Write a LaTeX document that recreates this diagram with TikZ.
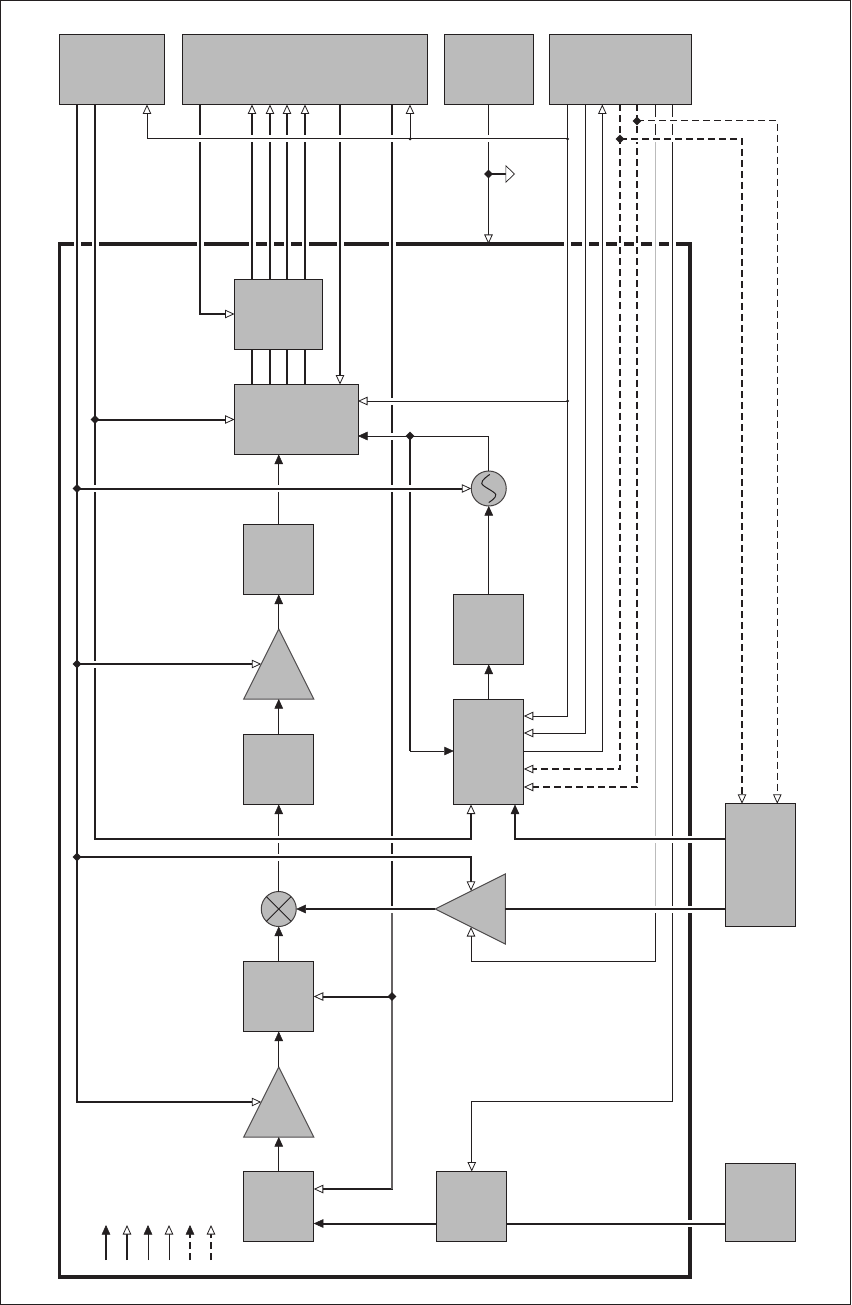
\documentclass[tikz,border=0pt]{standalone}
\usepackage{tikz}
\usepackage{xcolor}
\usetikzlibrary{arrows.meta,positioning,shapes.geometric}
\definecolor{ink}{HTML}{231F20}
\definecolor{blockgray}{HTML}{BBBBBB}

\begin{document}
\begin{tikzpicture}[
    x=1pt,y=1pt,
    block/.style={
        rectangle,
        draw=ink,
        fill=blockgray,
        line width=1pt,
        minimum width=70pt,
        minimum height=70pt,
        inner sep=0pt,
        outer sep=0pt
    },
    roundblock/.style={
        circle,
        draw=ink!85,
        fill=blockgray,
        line width=1pt,
        minimum size=35pt,
        inner sep=0pt,
        outer sep=0pt
    },
    triblock/.style={
        isosceles triangle,
        isosceles triangle stretches,
        draw=ink!80,
        fill=blockgray,
        line width=1pt,
        minimum width=70pt,
        minimum height=70pt,
        inner sep=0pt,
        outer sep=0pt
    },
    chipbox/.style={
        rectangle,
        draw=ink,
        line width=3.6pt,
        minimum width=630.5pt,
        minimum height=1033pt,
        inner sep=0pt,
        outer sep=0pt
    },
    junction/.style={diamond,fill=ink,minimum size=9pt,inner sep=0pt},
    smalljunction/.style={circle,fill=ink,minimum size=3pt,inner sep=0pt},
    thinline/.style={draw=ink,line width=1pt},
    thickline/.style={draw=ink,line width=2pt},
    thickdash/.style={draw=ink,line width=2pt,dash pattern=on 7pt off 4pt},
    thindash/.style={draw=ink,line width=1pt,dash pattern=on 7pt off 4pt},
    solidtip/.style={-{Triangle[width=8.5pt,length=9.5pt,line width=.5pt]}},
    hollowtip/.style={-{Triangle[width=8.5pt,length=9.5pt,line width=.8pt,fill=white]}},
    gapped/.style={preaction={draw=white,solid,line width=7pt,arrows=-,shorten <=3pt,shorten >=3pt}}
]
\useasboundingbox (0,0) rectangle (851,-1305);
\node (page) [draw=ink,line width=1.5pt,minimum width=850pt,minimum height=1304pt,inner sep=0pt] at (425.5,-652.5) {};
\node (chip) [chipbox] at (374.75,-760.5) {};

\node (topa) [block, minimum width=105pt] at (112,-69.5) {};
\node (topb) [block, minimum width=245pt, right=18pt of topa] {};
\node (topc) [block, minimum width=89pt, right=16.5pt of topb] {};
\node (topd) [block, minimum width=142.5pt, right=16pt of topc] {};

\node (regs) [block, minimum width=88pt, below right=35.5pt and 175pt of chip.north west] {};
\node (adc) [block, minimum width=123.5pt, below=35pt of regs.south west, anchor=north west] {};
\node (vga) [block, below=70pt of adc, xshift=-17.5pt] {};
\node (ampa) [triblock, shape border rotate=90, below=34.5pt of vga] {};
\node (lpfa) [block, below=35.5pt of ampa] {};
\node (mixer) [roundblock, below=87pt of lpfa] {};
\node (lpfb) [block, below=35pt of mixer] {};
\node (ampb) [triblock, shape border rotate=90, below=35.5pt of lpfb] {};
\node (drv) [block, below=34.5pt of ampb] {};
\node (ker) [block, right=123pt of drv] {};
\node (clk) [block, minimum height=78.5pt, right=219pt of ker, yshift=4pt] {};
\node (refs) [block, minimum height=122.5pt, above=237pt of clk] {};
\node (ctl) [block, minimum height=105pt, right=140pt of lpfa.south east, anchor=south west] {};
\node (lpfc) [block, above=35pt of ctl] {};
\node (osc) [roundblock, above=88.5pt of lpfc] {};
\node (gain) [triblock, shape border rotate=180, right=139pt of mixer] {};

\foreach \n/\x in {xa/77,xb/95,xc/200,xd/252,xe/270,xf/287,xg/305,xh/340,xi/392,xj/410,xk/147,
    xl/567.5,xm/585.3,xn/602.3,xo/620,xp/637,xq/655,xr/672.5,xs/742,xt/777.3,xu/471,xv/515}
    \coordinate (\n) at (\x,0);
\foreach \n/\y in {ydash/121,ybus/139,ytap/174,yserin/314,ybusb/401,yloop/436,yn1/716,yn2/733,yn3/751,
    yn4/769,yn5/787,yr1/839,yr2/857,ygaintop/890.9,ygainlow/927,yamp/961,yin/1223.5,ygainb/1101,ylna/1189}
    \coordinate (\n) at (0,-\y);

\draw [thickline,hollowtip,gapped] (topb.south -| xc) |- (regs.west |- yserin);
\foreach \r in {xd,xe,xf,xg} {
    \draw [thickline,hollowtip,gapped] (regs.north -| \r) -- (topb.south -| \r);
    \draw [thickline] (adc.north -| \r) -- (regs.south -| \r);
}
\draw [thickline,hollowtip,gapped] (topb.south -| xh) -- (adc.north -| xh);
\draw [thickline,hollowtip,gapped] (topb.south -| xi) -- (xi |- ylna) -- (drv.east |- ylna);
\draw [line width=2pt,ink!70] (xi |- gain) -- (xi |- ylna);
\draw [thickline,hollowtip] (lpfb.east -| xi) -- (lpfb.east);

\draw [thinline,solidtip] (drv.north) -- (ampb.south);
\draw [thinline,solidtip] (ampb.north) -- (lpfb.south);
\draw [thinline,solidtip] (lpfb.north) -- (mixer.south);
\draw [thinline,solidtip,gapped] (mixer.north) -- (lpfa.south);
\draw [thinline,solidtip] (lpfa.north) -- (ampa.south);
\draw [thinline,solidtip] (ampa.north) -- (vga.south);
\draw [thinline,solidtip,gapped] (vga.north) -- (adc.south -| vga.north);
\draw [thinline] (mixer.north west) -- (mixer.south east);
\draw [thinline] (mixer.north east) -- (mixer.south west);

\draw [thinline,hollowtip] (topc.south) -- (topc.south |- chip.north);
\draw [thinline,hollowtip,gapped] (topd.south -| xl) |- (ctl.east |- yn1);
\draw [thinline,hollowtip,gapped] (topd.south -| xm) |- (ctl.east |- yn2);
\draw [thinline,hollowtip,gapped] (ctl.east |- yn3) -| (topd.south -| xn);
\draw [thickdash,hollowtip,gapped] (topd.south -| xo) |- (ctl.east |- yn4);
\draw [thickdash,hollowtip,gapped] (topd.south -| xp) |- (ctl.east |- yn5);
\draw [thinline,gapped,hollowtip] (topd.south -| xq) -- (xq |- yamp) -| (xu |- ygainlow);
\draw [line width=1pt,blockgray] (xq |- ybus) -- (xq |- gain);
\draw [thinline,gapped,hollowtip] (topd.south -| xr) -- (xr |- ygainb) -| (ker.north);

\draw [thickline,hollowtip,gapped] (topa.south -| xb) -- (xb |- yr1) -| (ctl.south -| xu);
\draw [thickline,hollowtip] (adc.west -| xb) -- (adc.west);
\draw [thickline,hollowtip,gapped] (topa.south -| xa) |- (ampb.left side);

\draw [thinline,solidtip,gapped] (osc.north) |- (adc.east |- yloop);
\draw [thickline] (xj |- yloop) -- (xj |- yn3);
\draw [thinline,solidtip] (xj |- yn3) -- (ctl.west |- yn3);
\draw [thickline,hollowtip,gapped] (osc.west -| xa) -- (osc.west);
\draw [thickline,hollowtip,gapped] (ampa.left side -| xa) -- (ampa.left side);
\draw [thickline,hollowtip,gapped] (xa |- yr2) -| (xu |- ygaintop);
\draw [thinline,solidtip] (ctl.north) -- (lpfc.south);
\draw [thinline,solidtip] (lpfc.north) -- (osc.south);
\draw [thinline,shift={(osc.center)}] plot [smooth,tension=.6] coordinates {(1,14) (-7,5) (7,-6) (0,-14)};

\draw [thickline,solidtip,gapped] (refs.west |- yr1) -| (ctl.south -| xv);
\draw [thickline,gapped] (refs.west |- gain) -- (gain.lower side);
\draw [thickline,solidtip,gapped] (gain.apex) -- (mixer.east);
\draw [thickline,gapped] (clk.west |- yin) -- (ker.east |- yin);
\draw [thickline,solidtip] (ker.west |- yin) -- (drv.east |- yin);

\draw [thinline,hollowtip,gapped] (xl |- ybus) -| (topa.south -| xk);
\draw [thinline,hollowtip] (xj |- ybus) -- (topb.south -| xj);
\draw [thinline,hollowtip,gapped] (xl |- ybusb) -- (adc.east |- ybusb);
\draw [thickdash,hollowtip,gapped] (xo |- ybus) -| (refs.north -| xs);
\draw [thindash,hollowtip,gapped] (xp |- ydash) -| (refs.north -| xt);
\coordinate (tapend) at (515,-174);
\draw [thickline,-{Triangle[width=18pt,length=9.5pt,line width=.7pt,fill=white]}] (topc.south |- ytap) -- (tapend);

\foreach \n/\x in {lega/106,legb/127,legc/148,legd/169,lege/190,legf/211} {
    \coordinate (\n) at (\x,-1260);
    \coordinate (\n-top) at (\x,-1225);
}
\draw [thickline,solidtip] (lega) -- (lega-top);
\draw [thickline,hollowtip] (legb) -- (legb-top);
\draw [thinline,solidtip] (legc) -- (legc-top);
\draw [thinline,hollowtip] (legd) -- (legd-top);
\draw [thickdash,solidtip] (lege) -- (lege-top);
\draw [thickdash,hollowtip] (legf) -- (legf-top);

\node (dota) [junction] at (adc.west -| xb) {};
\node (dotb) [junction] at (osc.west -| xa) {};
\node (dotc) [junction] at (ampa.left side -| xa) {};
\node (dotd) [junction] at (xa |- yr2) {};
\node (dote) [junction] at (lpfb.east -| xi) {};
\node (dotf) [junction] at (xj |- yloop) {};
\node (dotg) [junction] at (topc.south |- ytap) {};
\node (doth) [junction] at (xo |- ybus) {};
\node (doti) [junction] at (xp |- ydash) {};
\node (dotj) [smalljunction] at (xj |- ybus) {};
\node (dotk) [smalljunction] at (xl |- ybus) {};
\node (dotl) [smalljunction] at (xl |- ybusb) {};
\end{tikzpicture}
\end{document}
